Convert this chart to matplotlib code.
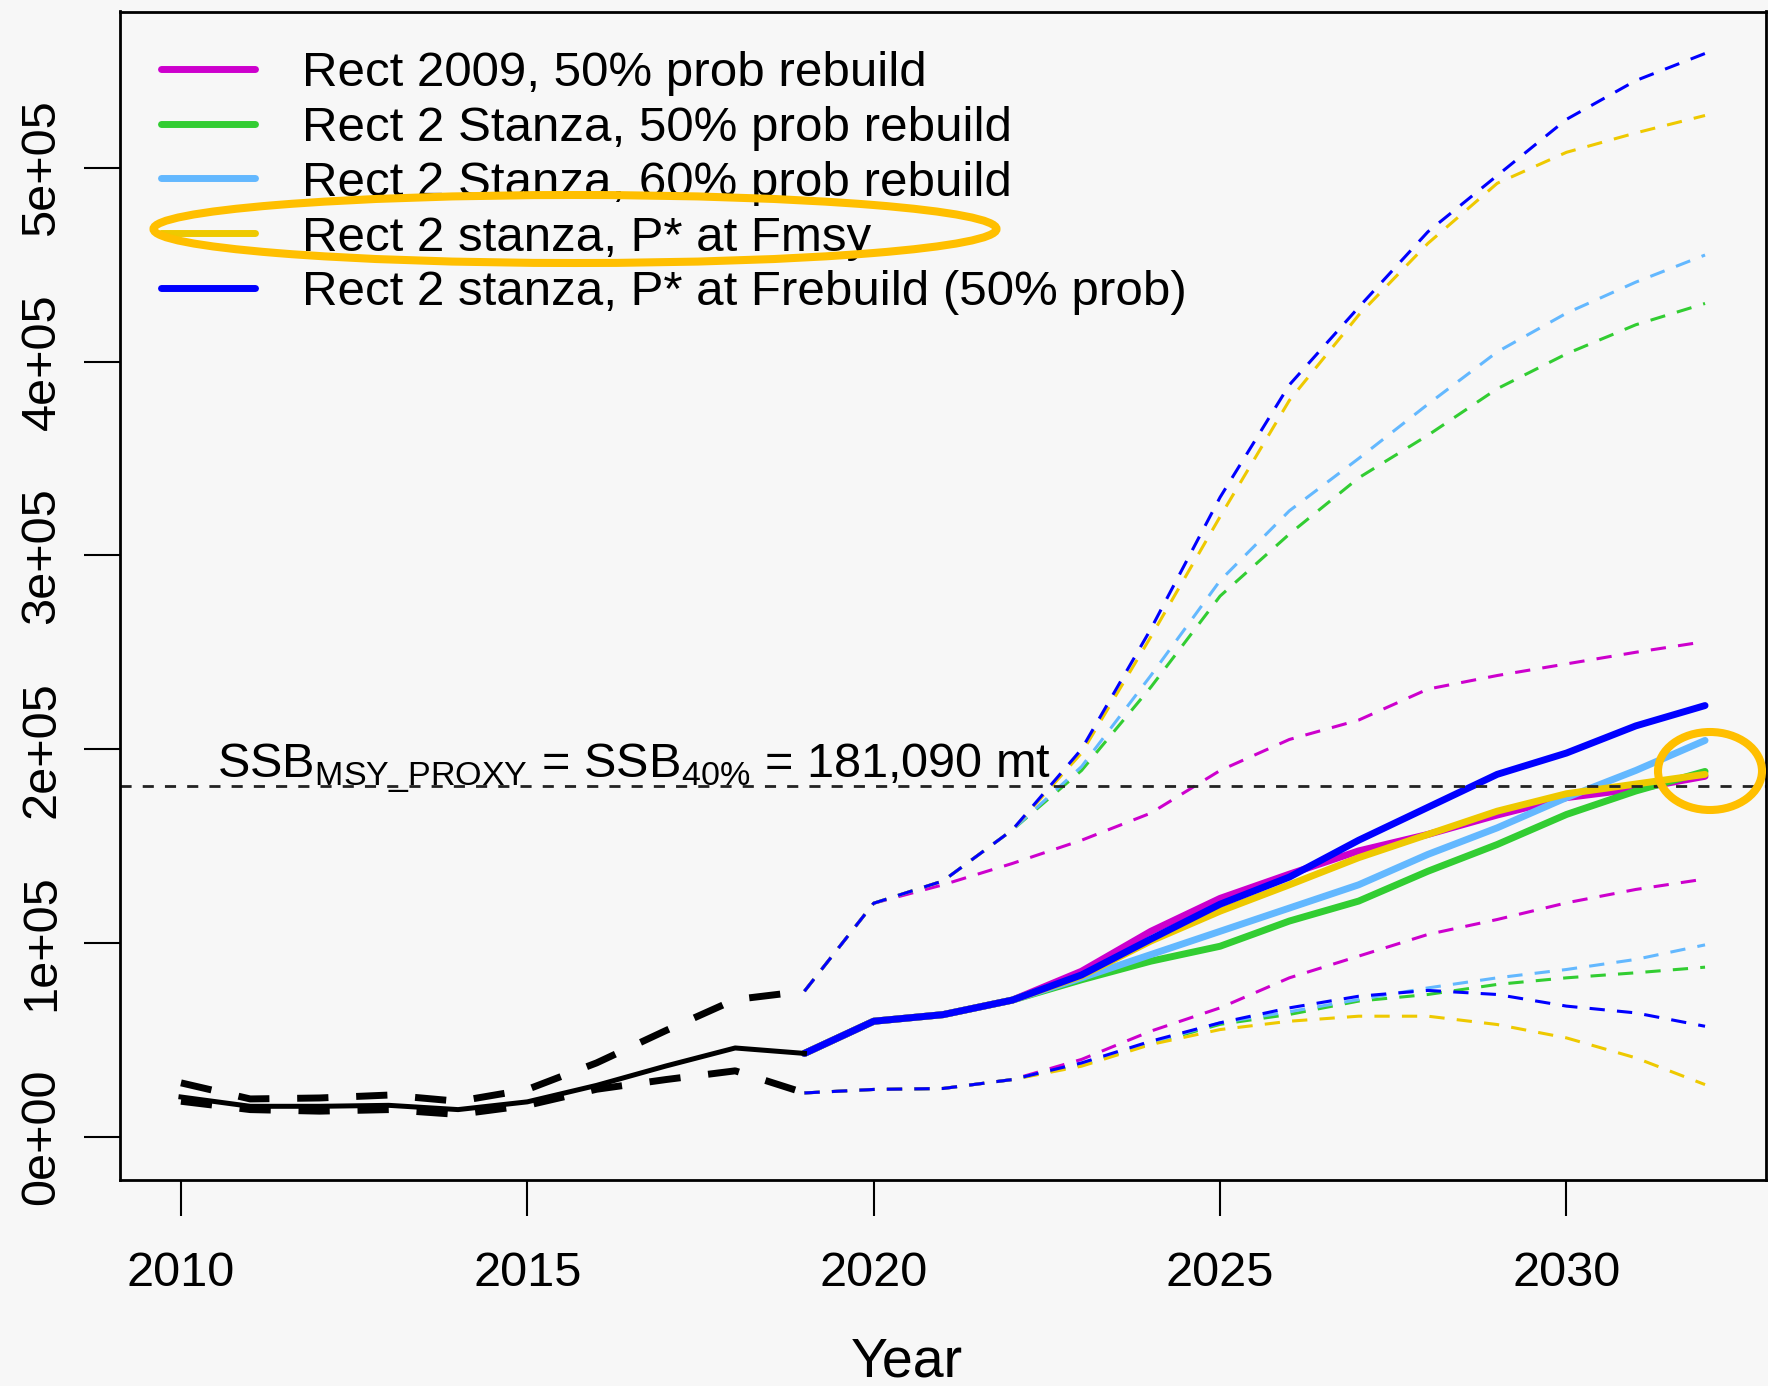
import matplotlib
matplotlib.use("Agg")
import matplotlib.pyplot as plt
from matplotlib.patches import Ellipse

plt.rcParams["font.family"] = ["Liberation Sans", "DejaVu Sans"]
plt.rcParams["mathtext.fontset"] = "custom"
plt.rcParams["mathtext.rm"] = "Liberation Sans"

# Historical SSB (mt), 2010-2019
YEARS_HIST = list(range(2010, 2020))
SSB_HIST = [20500, 15700, 15700, 16200, 14000, 18000, 26500, 36500, 45800, 43000]
SSB_HIST_HI = [27800, 19500, 20000, 21500, 18300, 24400, 38100, 54800, 70800, 75100]
SSB_HIST_LO = [18300, 14000, 13200, 14000, 11500, 16200, 24500, 29500, 34000, 22600]

# Projections, 2019-2032
YEARS_PROJ = list(range(2019, 2033))
MAG_MED = [43000, 59600, 63000, 70500, 85400, 106000, 123000, 135500, 147500, 156000, 166000, 175000, 179500, 186000]
MAG_HI = [75100, 120500, 130000, 141000, 153000, 167000, 189000, 205000, 215000, 231000, 238000, 244000, 250000, 255500]
MAG_LO = [22600, 24400, 24900, 29500, 39900, 54500, 66500, 82000, 93200, 104400, 112100, 120700, 127600, 133000]

GRN_MED = [43000, 59600, 63000, 70500, 81000, 90600, 98300, 111300, 121600, 137000, 150800, 166300, 178400, 188500]
GRN_HI = [75100, 120500, 132000, 158300, 189000, 232000, 279000, 311000, 340000, 362000, 386000, 404000, 419000, 430000]
GRN_LO = [22600, 24400, 24900, 29500, 37300, 48000, 58000, 63100, 70000, 73400, 78600, 82000, 84600, 87500]

LBL_MED = [43000, 59600, 63000, 70500, 82000, 94000, 106000, 118000, 130000, 145700, 159400, 175000, 189000, 204500]
LBL_HI = [75100, 120500, 132000, 158300, 191000, 238000, 287000, 323000, 350000, 378000, 405000, 425000, 441000, 455000]
LBL_LO = [22600, 24400, 24900, 29500, 37500, 48500, 58800, 64500, 70800, 76800, 82000, 86300, 91500, 99000]

YEL_MED = [43000, 59600, 63000, 70500, 83000, 101000, 116400, 130000, 144000, 156000, 168000, 177000, 182000, 187000]
YEL_HI = [75100, 120500, 132000, 158300, 198000, 258000, 320000, 380000, 424000, 461000, 492000, 508000, 518000, 527000]
YEL_LO = [22600, 24400, 24900, 29500, 36400, 47600, 55300, 59600, 62200, 62200, 57900, 51000, 40700, 26900]

BLU_MED = [43000, 59600, 63000, 70500, 83500, 102000, 120000, 134000, 153000, 170000, 187000, 198000, 212000, 222500]
BLU_HI = [75100, 120500, 132000, 158300, 200000, 262000, 330000, 388000, 428000, 467000, 496000, 525000, 545000, 559000]
BLU_LO = [22600, 24400, 24900, 29500, 38100, 49300, 58800, 66500, 72500, 75500, 73400, 67400, 63900, 57000]

SSB_MSY = 181090

SCENARIOS = [
    ("Rect 2009, 50% prob rebuild", "#cd00cd", MAG_MED, MAG_HI, MAG_LO),
    ("Rect 2 Stanza, 50% prob rebuild", "#32cd32", GRN_MED, GRN_HI, GRN_LO),
    ("Rect 2 Stanza, 60% prob rebuild", "#63b8ff", LBL_MED, LBL_HI, LBL_LO),
    ("Rect 2 stanza, P* at Fmsy", "#eec900", YEL_MED, YEL_HI, YEL_LO),
    ("Rect 2 stanza, P* at Frebuild (50% prob)", "#0000ff", BLU_MED, BLU_HI, BLU_LO),
]
YTICKS = [0, 100000, 200000, 300000, 400000, 500000]
YTICK_LABELS = ["0e+00", "1e+05", "2e+05", "3e+05", "4e+05", "5e+05"]
XTICKS = [2010, 2015, 2020, 2025, 2030]

BG = "#f7f7f7"
W, H = 1768, 1386

fig = plt.figure(figsize=(W / 100, H / 100), dpi=100, facecolor=BG)
ax = fig.add_axes([120 / W, 1 - 1180 / H, 1646 / W, 1168.5 / H], facecolor=BG)

# projections: dashed intervals then median
for label, color, med, hi, lo in SCENARIOS:
    for band in (hi, lo):
        ax.plot(YEARS_PROJ, band, color=color, lw=2.2, linestyle=(0, (5, 4)))
    ax.plot(YEARS_PROJ, med, color=color, lw=5, solid_capstyle="round",
            solid_joinstyle="round", label=label)

# historical
ax.plot(YEARS_HIST, SSB_HIST, color="black", lw=3.6, solid_joinstyle="round")
for band in (SSB_HIST_HI, SSB_HIST_LO):
    ax.plot(YEARS_HIST, band, color="black", lw=5, linestyle=(0, (4.5, 4)))

# reference line
ax.axhline(SSB_MSY, color="#222222", lw=2, linestyle=(0, (4, 4)))
ax.text(2010.52, 185000, r"SSB$_{\mathregular{MSY\_PROXY}}$ = SSB$_{\mathregular{40\%}}$ = 181,090 mt",
        fontsize=35, ha="left", va="baseline")

ax.set_xlim(2009.12, 2032.88)
ax.set_ylim(-22330, 580660)
ax.set_xticks(XTICKS)
ax.set_yticks(YTICKS)
ax.set_yticklabels(YTICK_LABELS, rotation=90, va="center", ha="right")
ax.tick_params(axis="both", direction="out", length=26, width=1.5, labelsize=35)
ax.tick_params(axis="x", pad=25)
ax.tick_params(axis="y", pad=14)
for sp in ax.spines.values():
    sp.set_linewidth(2)

ax.set_xlabel("Year", fontsize=40)
ax.xaxis.set_label_coords(0.478, -0.1558)
ax.xaxis.label.set_va("center")

ax.legend(loc="upper left", bbox_to_anchor=(161 / W, 1 - 51 / H),
          bbox_transform=fig.transFigure, frameon=False, fontsize=35.5,
          handlelength=1.9, handletextpad=0.95, labelspacing=0.2,
          borderpad=0, borderaxespad=0)

# orange highlight annotations
ring = dict(fill=False, edgecolor="#ffbf00", lw=5.8, transform=fig.transFigure)
fig.add_artist(Ellipse((575 / W, 1 - 229 / H), 843 / W, 68 / H, **ring))
fig.add_artist(Ellipse((1710 / W, 1 - 771 / H), 104 / W, 78 / H, **ring))

fig.savefig("out.png", dpi=100, facecolor=BG)
